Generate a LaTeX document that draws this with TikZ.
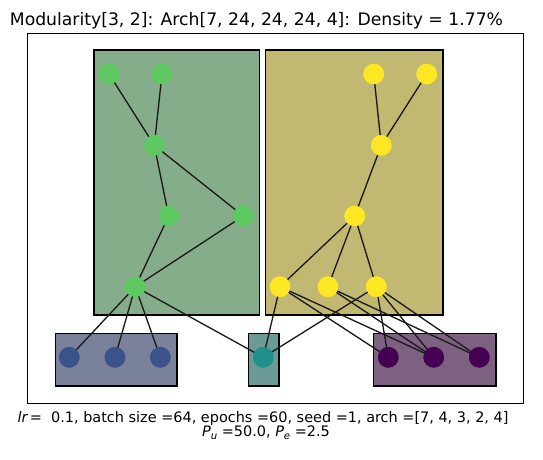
\documentclass[tikz,border=0pt]{standalone}
\usepackage{fontspec}
\setmainfont{DejaVu Sans}
\begin{document}
\begin{tikzpicture}[x=0.72pt,y=-0.72pt,
  neuron/.style={circle,inner sep=0pt,minimum size=14.8pt,draw=none},
  module/.style={draw=black,line width=0.8pt},
  link/.style={draw=black!90,line width=0.95pt},
  lbl/.style={inner sep=0pt,font=\fontsize{10.4}{12}\selectfont}
]
\definecolor{vgreen}{HTML}{5EC962}
\definecolor{vyellow}{HTML}{FDE725}
\definecolor{vblue}{HTML}{3B528B}
\definecolor{vteal}{HTML}{21918C}
\definecolor{vpurple}{HTML}{440154}
\definecolor{bgreen}{RGB}{134,173,137}
\definecolor{byellow}{RGB}{193,185,114}
\definecolor{bblue}{RGB}{122,130,155}
\definecolor{bteal}{RGB}{108,155,151}
\definecolor{bpurple}{RGB}{124,98,128}

\useasboundingbox (0,0) rectangle (543,459);
\fill[white] (0,0) rectangle (543,459);

% axes frame
\draw[line width=0.6pt] (27,33) rectangle (523,403);

% title and caption
\node[inner sep=0pt,anchor=base,font=\fontsize{12.4}{14}\selectfont] (title) at (256.5,25)
  {Modularity[3, 2]: Arch[7, 24, 24, 24, 4]: Density = 1.77\%};
\node[lbl,anchor=base] (cap1) at (263,422.5)
  {{\itshape lr}\,=\ \ 0.1, batch size =64, epochs =60, seed =1, arch =[7, 4, 3, 2, 4]};
\node[lbl,anchor=base] (cap2) at (266,436.5)
  {{\itshape P}\raisebox{-0.2em}{\fontsize{7.3}{7}\selectfont\itshape u} =50.0, {\itshape P}\raisebox{-0.2em}{\fontsize{7.3}{7}\selectfont\itshape e} =2.5};

% module boxes
\filldraw[module,fill=bgreen]  (94,50)  rectangle (259.5,315);
\filldraw[module,fill=byellow] (265.5,50) rectangle (443,315);
\filldraw[module,fill=bblue]   (55.5,333.5) rectangle (177,386);
\filldraw[module,fill=bteal]   (248.5,333.5) rectangle (279,386);
\filldraw[module,fill=bpurple] (373.5,333.5) rectangle (496,386);

% neurons
\node[neuron,fill=vgreen] (g1) at (109,74) {};
\node[neuron,fill=vgreen] (g2) at (162,74) {};
\node[neuron,fill=vgreen] (g3) at (154.3,145.3) {};
\node[neuron,fill=vgreen] (g4) at (168.7,216) {};
\node[neuron,fill=vgreen] (g5) at (243.3,216) {};
\node[neuron,fill=vgreen] (g6) at (135.3,286.7) {};

\node[neuron,fill=vyellow] (y1) at (373.7,74) {};
\node[neuron,fill=vyellow] (y2) at (426.7,74) {};
\node[neuron,fill=vyellow] (y3) at (381.3,145.3) {};
\node[neuron,fill=vyellow] (y4) at (354.7,216) {};
\node[neuron,fill=vyellow] (y5) at (280,286.7) {};
\node[neuron,fill=vyellow] (y6) at (328,286.7) {};
\node[neuron,fill=vyellow] (y7) at (376.3,286.7) {};

\node[neuron,fill=vblue] (b1) at (69.3,357.3) {};
\node[neuron,fill=vblue] (b2) at (115,357.3) {};
\node[neuron,fill=vblue] (b3) at (160.3,357.3) {};
\node[neuron,fill=vteal] (t1) at (263.3,357.3) {};
\node[neuron,fill=vpurple] (p1) at (388.3,357.3) {};
\node[neuron,fill=vpurple] (p2) at (433.7,357.3) {};
\node[neuron,fill=vpurple] (p3) at (479.3,357.3) {};

% connections between neurons
\foreach \a/\b in {g1/g3,g2/g3,g3/g4,g3/g5,g4/g6,g5/g6,
                   g6/b1,g6/b2,g6/b3,g6/t1,
                   y1/y3,y2/y3,y3/y4,y4/y5,y4/y6,y4/y7,
                   y5/t1,y5/p1,y5/p2,y6/p2,y6/p3,
                   y7/t1,y7/p1,y7/p2,y7/p3}
  \draw[link] (\a.center) -- (\b.center);

% redraw neurons on top of the connections
\foreach \n/\c in {g1/vgreen,g2/vgreen,g3/vgreen,g4/vgreen,g5/vgreen,g6/vgreen,
                   y1/vyellow,y2/vyellow,y3/vyellow,y4/vyellow,y5/vyellow,y6/vyellow,y7/vyellow,
                   b1/vblue,b2/vblue,b3/vblue,t1/vteal,p1/vpurple,p2/vpurple,p3/vpurple}
  \fill[\c] (\n.center) circle[radius=10.3];
\end{tikzpicture}
\end{document}
